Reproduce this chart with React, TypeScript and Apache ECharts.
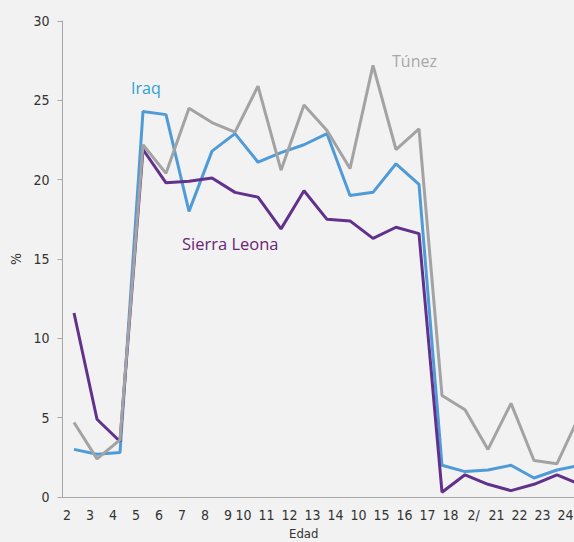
import React, { useEffect, useRef } from "react";
import * as echarts from "echarts";

const xLabels = ["2", "3", "4", "5", "6", "7", "8", "9", "10", "11", "12", "13", "14", "10", "15", "16", "17", "18", "2/", "21", "22", "23", "24"];
const iraq = [3.0, 2.7, 2.8, 24.3, 24.1, 18.0, 21.8, 22.9, 21.1, 21.7, 22.2, 22.9, 19.0, 19.2, 21.0, 19.7, 2.0, 1.6, 1.7, 2.0, 1.2, 1.7, 2.0];
const sierraLeona = [11.6, 4.9, 3.5, 21.9, 19.8, 19.9, 20.1, 19.2, 18.9, 16.9, 19.3, 17.5, 17.4, 16.3, 17.0, 16.6, 0.3, 1.4, 0.8, 0.4, 0.8, 1.4, 0.8];
const tunez = [4.7, 2.4, 3.6, 22.2, 20.4, 24.5, 23.6, 23.0, 25.9, 20.6, 24.7, 23.1, 20.7, 27.2, 21.9, 23.2, 6.4, 5.5, 3.0, 5.9, 2.3, 2.1, 5.2];

const tickFont = "'Liberation Sans Narrow', 'DejaVu Sans Condensed', 'Open Sans', sans-serif";
const labelFont = "'Open Sans', 'Noto Sans', sans-serif";

export default function App() {
  const ref = useRef<HTMLDivElement>(null);
  useEffect(() => {
    if (!ref.current) return;
    const chart = echarts.init(ref.current, null, { renderer: "svg" });
    chart.setOption({
      animation: false,
      backgroundColor: "#f2f2f2",
      grid: { left: 62.5, right: -17.5, top: 21, bottom: 45, outerBoundsMode: "none" },
      xAxis: {
        type: "category",
        data: xLabels,
        boundaryGap: true,
        axisLine: { show: true, lineStyle: { color: "#a6a6a6", width: 1 } },
        axisTick: { show: false },
        axisLabel: {
          interval: 0,
          margin: 11,
          formatter: (v: string, i: number) => (i <= 7 ? `{a|${v}}` : `{b|${v}}`),
          rich: {
            a: { fontFamily: tickFont, fontSize: 14, color: "#333", padding: [0, 14, 0, 0] },
            b: { fontFamily: tickFont, fontSize: 14, color: "#333", padding: [0, 29, 0, 0] },
          },
        },
        splitLine: { show: false },
      },
      yAxis: {
        type: "value",
        min: 0,
        max: 30,
        interval: 5,
        name: "%",
        nameLocation: "middle",
        nameRotate: 90,
        nameGap: 39,
        nameTextStyle: { fontFamily: tickFont, fontSize: 14, color: "#333" },
        axisLine: { show: true, lineStyle: { color: "#a6a6a6", width: 1 } },
        axisTick: { show: true, length: 5, lineStyle: { color: "#a6a6a6" } },
        axisLabel: { fontFamily: tickFont, fontSize: 14, color: "#333", margin: 13 },
        splitLine: { show: false },
      },
      series: [
        {
          name: "Iraq",
          type: "line",
          data: iraq,
          showSymbol: false,
          lineStyle: { color: "#4f9bd8", width: 3 },
          itemStyle: { color: "#4f9bd8" },
        },
        {
          name: "Sierra Leona",
          type: "line",
          data: sierraLeona,
          showSymbol: false,
          lineStyle: { color: "#61318b", width: 3 },
          itemStyle: { color: "#61318b" },
        },
        {
          name: "Túnez",
          type: "line",
          data: tunez,
          showSymbol: false,
          lineStyle: { color: "#a3a3a3", width: 3 },
          itemStyle: { color: "#a3a3a3" },
        },
      ],
      graphic: [
        { type: "text", left: 131, top: 80, style: { text: "Iraq", fontFamily: labelFont, fontSize: 16, fill: "#2f9fd0" } },
        { type: "text", left: 392, top: 53, style: { text: "Túnez", fontFamily: labelFont, fontSize: 16, fill: "#a8a8a8" } },
        { type: "text", left: 182, top: 235, style: { text: "Sierra Leona", fontFamily: labelFont, fontSize: 16.5, fill: "#6a2474" } },
        { type: "text", left: 289, top: 527, style: { text: "Edad", fontFamily: tickFont, fontSize: 13, fill: "#333" } },
      ],
    });
    return () => chart.dispose();
  }, []);
  return <div ref={ref} style={{ position: "absolute", left: 0, top: 0, width: 574, height: 542 }} />;
}
